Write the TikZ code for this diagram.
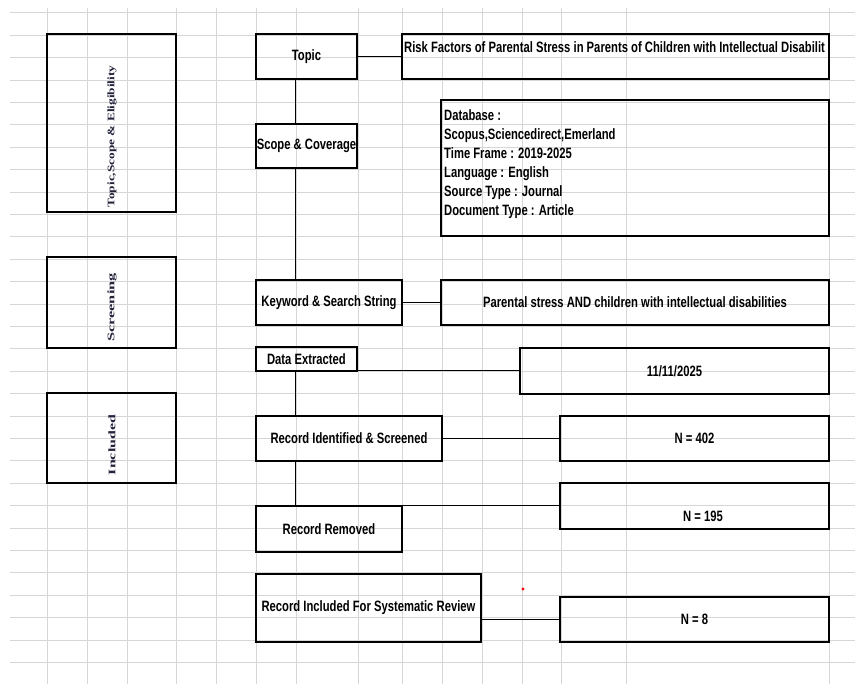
\documentclass[tikz,border=0pt]{standalone}
\usepackage{fontspec}
\usepackage{graphicx}
\newfontfamily\cellfont{Liberation Sans}[FakeStretch=0.75]
\newfontfamily\sidefont{Liberation Serif}
\usetikzlibrary{positioning}
\definecolor{gridgray}{RGB}{214,214,214}
\definecolor{sideink}{RGB}{35,35,60}

\begin{document}
\begin{tikzpicture}[x=1pt, y=-1pt]
	\tikzstyle{cell} = [draw, line width=2.6pt, inner sep=0pt, outer sep=0pt, font=\cellfont\bfseries\fontsize{15}{19}\selectfont]
	\tikzstyle{celltext} = [inner sep=0pt, font=\cellfont\bfseries\fontsize{15}{19}\selectfont]
	\tikzstyle{side} = [draw, line width=2.6pt, minimum width=129pt, inner sep=0pt]
	\tikzstyle{sidetext} = [rotate=90, text=sideink, inner sep=0pt, font=\sidefont\bfseries\fontsize{10}{11}\selectfont]
	\tikzstyle{link} = [line width=1pt]

	\useasboundingbox (0,0) rectangle (855,684);
	\fill[white] (0,0) rectangle (855,684);

	% sheet grid
	\foreach \gx in {47,87,127,176,216,256,296,358,402,442,482,522,561,626,829}
		\draw[gridgray, line width=1pt] (\gx,8) -- (\gx,684);
	\foreach \k in {0,...,29}
		\draw[gridgray, line width=1pt] (10,13+22.4*\k) -- (855,13+22.4*\k);

	% phases
	\node[side, minimum height=178pt] (phase1) at (111.5,123) {};
	\node[side, minimum height=91pt] (phase2) at (111.5,302.5) {};
	\node[side, minimum height=90pt] (phase3) at (111.5,438) {};
	\node[sidetext] (phase1txt) at (112,136.5) {\scalebox{1.33}[1]{Topic,Scope \& Eligibility}};
	\node[sidetext] (phase2txt) at (112,307.5) {\scalebox{1.63}[1]{Screening}};
	\node[sidetext] (phase3txt) at (112,445) {\scalebox{1.59}[1]{Included}};

	% steps
	\node[cell, minimum width=101pt, minimum height=45pt] (topic) at (306.5,56.5) {Topic};
	\node[cell, minimum width=427pt, minimum height=45pt] (risk) at (615.5,56.5) {};
	\node[celltext, anchor=base west] (risktxt) at (404,53) {Risk Factors of Parental Stress in Parents of Children with Intellectual Disabilit};
	\node[cell, minimum width=101pt, minimum height=44pt] (scope) at (306.5,146) {Scope \& Coverage};
	\node[cell, minimum width=388pt, minimum height=136pt] (database) at (635,168) {};
	\node[celltext, anchor=north west, align=left] (databasetxt) at (444,109) {Database :\\Scopus,Sciencedirect,Emerland\\Time Frame : 2019-2025\\Language : English\\Source Type : Journal\\Document Type : Article};
	\node[cell, minimum width=146pt, minimum height=45pt] (keyword) at (329,302.5) {Keyword \& Search String};
	\node[cell, minimum width=388pt, minimum height=45pt] (parental) at (635,302.5) {Parental stress AND children with intellectual disabilities};
	\node[cell, minimum width=101pt, minimum height=24pt] (dataex) at (306.5,359) {Data Extracted};
	\node[cell, minimum width=309pt, minimum height=46pt] (date) at (674.5,371) {11/11/2025};
	\node[cell, minimum width=186pt, minimum height=45pt] (recid) at (349,438.5) {Record Identified \& Screened};
	\node[cell, minimum width=269pt, minimum height=45pt] (n402) at (694.5,438.5) {N = 402};
	\node[cell, minimum width=146pt, minimum height=46pt] (removed) at (329,529) {Record Removed};
	\node[cell, minimum width=269pt, minimum height=46pt] (n195) at (694.5,506) {};
	\node[celltext] (n195txt) at (703,516) {N = 195};
	\node[cell, minimum width=225pt, minimum height=68pt] (included) at (368.5,608) {Record Included For Systematic Review};
	\node[cell, minimum width=269pt, minimum height=45pt] (n8) at (694.5,619.5) {N = 8};

	% connectors
	\coordinate (spine) at (295,0);
	\draw[link] (topic) -- (risk);
	\draw[link] (topic.south -| spine) -- (scope.north -| spine);
	\draw[link] (scope.south -| spine) -- (keyword.north -| spine);
	\draw[link] (keyword) -- (parental);
	\draw[link] (dataex.south east) -- (date.west);
	\draw[link] (dataex.south -| spine) -- (recid.north -| spine);
	\draw[link] (recid) -- (n402);
	\draw[link] (recid.south -| spine) -- (removed.north -| spine);
	\draw[link] (removed.north east) -- (n195.west);
	\draw[link] (included.east |- n8.west) -- (n8.west);

	\fill[red] (523,589) circle (1.6pt);
\end{tikzpicture}
\end{document}
